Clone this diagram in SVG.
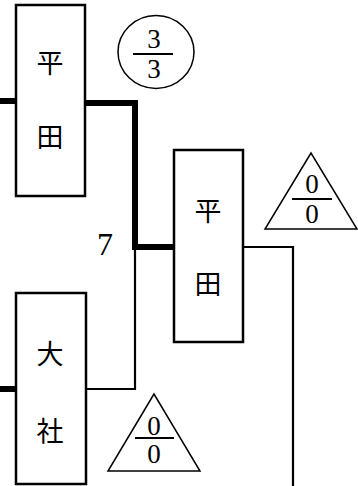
<svg xmlns="http://www.w3.org/2000/svg" width="358" height="486" viewBox="0 0 358 486">
<style>
.box{fill:#fff;stroke:#000;stroke-width:2.5}
.thick{fill:none;stroke:#000;stroke-width:6}
.thin{fill:none;stroke:#000;stroke-width:2.2}
.sym{fill:#fff;stroke:#000;stroke-width:1.5}
.bar{stroke:#000;stroke-width:2}
.cj{font-family:"Noto Sans CJK JP",sans-serif;font-size:27px;text-anchor:middle;fill:#000}
.num{font-family:"Liberation Serif",serif;font-size:27px;text-anchor:middle;fill:#000}
</style>
<rect width="358" height="486" fill="#fff"/>
<g id="connectors">
<path class="thick" d="M0 101H16"/>
<path class="thick" d="M85 103H135V247H173"/>
<path class="thin" d="M86 389H135V247"/>
<path class="thin" d="M243 247H293V486"/>
<path class="thick" d="M0 389H16"/>
</g>
<g id="n1"><rect class="box" x="16" y="5" width="69" height="191"/><text class="cj" x="50" y="73">平</text><text class="cj" x="50" y="147">田</text></g>
<g id="n2"><rect class="box" x="174" y="150" width="69" height="192"/><text class="cj" x="208" y="221">平</text><text class="cj" x="208" y="294">田</text></g>
<g id="n3"><rect class="box" x="16" y="293" width="70" height="191"/><text class="cj" x="50" y="364">大</text><text class="cj" x="50" y="441">社</text></g>
<g id="s1"><ellipse class="sym" cx="156" cy="52" rx="38" ry="36.5"/><text class="num" x="154" y="48">3</text><line class="bar" x1="133" y1="54" x2="173" y2="54"/><text class="num" x="154" y="78">3</text></g>
<g id="s2"><polygon class="sym" points="311,153 265,229 357,229"/><text class="num" x="312" y="193">0</text><line class="bar" x1="292" y1="199" x2="332" y2="199"/><text class="num" x="312" y="223">0</text></g>
<g id="s3"><polygon class="sym" points="154,394 108,471 200,471"/><text class="num" x="154" y="435">0</text><line class="bar" x1="135" y1="438" x2="174" y2="438"/><text class="num" x="154" y="463">0</text></g>
<text class="num" x="105" y="255" style="font-size:32px">7</text>
</svg>
